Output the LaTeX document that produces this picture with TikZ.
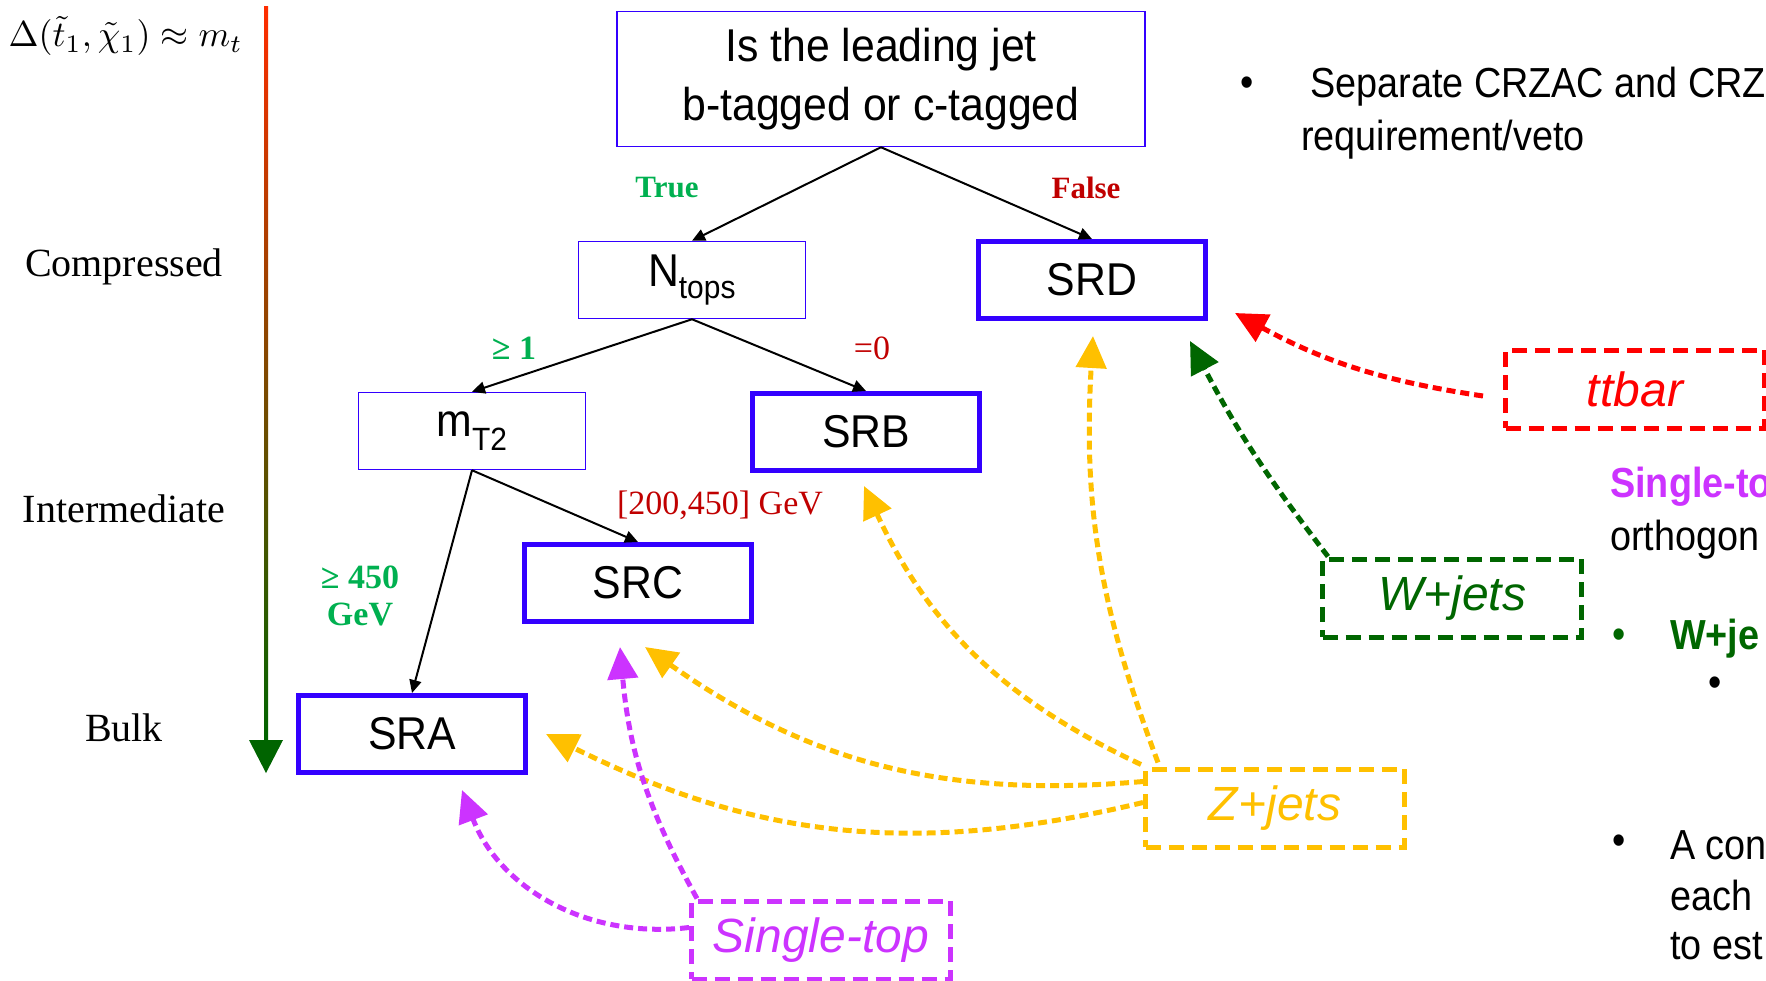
\documentclass[tikz,border=0pt]{standalone}
\usepackage{fontspec}
\setmainfont{Liberation Serif}
\newfontfamily\boxfont[FakeStretch=0.93]{Liberation Sans}
\newfontfamily\bkgfont{Liberation Sans}
\newfontfamily\sidefont[FakeStretch=0.9]{Liberation Sans}
\usepackage{tikz}
\usetikzlibrary{calc}
\usetikzlibrary{arrows.meta}
\definecolor{colbox}{RGB}{51,0,255}
\definecolor{colyes}{RGB}{0,176,80}
\definecolor{colno}{RGB}{192,0,0}
\definecolor{colzj}{RGB}{255,192,0}
\definecolor{colst}{RGB}{204,51,255}
\definecolor{colwj}{RGB}{0,102,0}
\definecolor{coltt}{RGB}{255,0,0}
\definecolor{coltop}{RGB}{255,45,0}
\definecolor{colbot}{RGB}{0,100,0}
\tikzstyle{cutbox}=[draw=colbox, line width=1.5pt, fill=white, minimum width=227pt, minimum height=77pt, font=\boxfont\fontsize{46}{59}\selectfont]
\tikzstyle{srbox}=[cutbox, line width=5pt]
\tikzstyle{bkgbox}=[line width=5pt, dash pattern=on 15pt off 8pt, minimum width=259pt, minimum height=78pt, font=\bkgfont\itshape\fontsize{48}{52}\selectfont]
\tikzstyle{cutedge}=[line width=2pt, -{Triangle[length=13pt,width=12pt]}]
\tikzstyle{bkgarrow}=[line width=5pt, dash pattern=on 9pt off 5pt, -{Triangle[length=32pt,width=30pt]}]
\tikzstyle{edgelabel}=[font=\bfseries\fontsize{31}{37}\selectfont]
\tikzstyle{cutlabel}=[font=\bfseries\fontsize{34}{37}\selectfont]
\tikzstyle{regime}=[font=\fontsize{40}{44}\selectfont]
\tikzstyle{sidetext}=[anchor=west, inner sep=0pt, font=\sidefont\fontsize{42}{50}\selectfont]

\begin{document}
\begin{tikzpicture}[x=1pt, y=-1pt]
      \useasboundingbox (0,0) rectangle (1766,980);

      % Mass splitting axis
      \node[anchor=west, inner sep=0pt, scale=3.6] (dm) at (8,36) {$\Delta(\tilde{t}_1,\tilde{\chi}_1)\approx m_t$};
      \shade[top color=coltop, bottom color=colbot] (264,6) rectangle (268,742);
      \fill[colbot] (249,740) -- (283,740) -- (266,773) -- cycle;
      \node[regime] (comp) at (124,267) {Compressed};
      \node[regime] (inter) at (124,509) {Intermediate};
      \node[regime] (bulk) at (124,728) {Bulk};

      % Decision tree
      \node[cutbox, minimum width=528pt, minimum height=135pt, align=center] (lead) at (881,79) {Is the leading jet\\b-tagged or c-tagged};
      \node[cutbox] (ntops) at (692,280) {N\textsubscript{tops}};
      \node[srbox] (srd) at (1092,280) {SRD};
      \node[cutbox] (mtt) at (472,431) {m\textsubscript{T2}};
      \node[srbox] (srb) at (866,432) {SRB};
      \node[srbox] (src) at (638,583) {SRC};
      \node[srbox] (sra) at (412,734) {SRA};

      \draw[cutedge] (lead.south) -- (ntops.north);
      \draw[cutedge] (lead.south) -- (srd.north);
      \draw[cutedge] (ntops.south) -- (mtt.north);
      \draw[cutedge] (ntops.south) -- (srb.north);
      \draw[cutedge] (mtt.south) -- (src.north);
      \draw[cutedge] (mtt.south) -- (sra.north);

      \node[edgelabel, text=colyes] (ltrue) at (667,188) {True};
      \node[edgelabel, text=colno] (lfalse) at (1086,188) {False};
      \node[cutlabel, text=colyes] (lone) at (514,348) {≥ 1};
      \node[cutlabel, font=\fontsize{34}{37}\selectfont, text=colno] (lzero) at (872,348) {=0};
      \node[cutlabel, font=\fontsize{34}{37}\selectfont, text=colno] (lmid) at (720,505) {[200,450] GeV};
      \node[cutlabel, text=colyes, align=center] (lhigh) at (360,596) {≥ 450\\GeV};

      % Backgrounds
      \node[bkgbox, draw=coltt, text=coltt] (ttbar) at (1635,389) {ttbar};
      \node[bkgbox, draw=colwj, text=colwj] (wjets) at (1452,598) {W+jets};
      \node[bkgbox, draw=colzj, text=colzj] (zjets) at (1275,808) {Z+jets};
      \node[bkgbox, draw=colst, text=colst] (stop) at (821,940) {Single-top};

      \draw[bkgarrow, coltt] ($(ttbar.west)+(-20,7)$) to[bend left=10] ($(srd.south east)+(27,-8)$);
      \draw[bkgarrow, colwj] ($(wjets.north west)+(8,0)$) to[bend left=5] ($(srd.south east)+(-18,20)$);
      \draw[bkgarrow, colzj] ($(zjets.north west)+(15,-4)$) to[bend left=12] ($(srd.south)+(1,15)$);
      \draw[bkgarrow, colzj] ($(zjets.north west)+(-2,-2)$) to[bend left=20] ($(srb.south)+(-2,13)$);
      \draw[bkgarrow, colzj] ($(zjets.north west)+(0,15)$) to[bend left=20] ($(src.south)+(7,23)$);
      \draw[bkgarrow, colzj] ($(zjets.north west)+(0,36)$) to[bend left=20] ($(sra.east)+(18,0)$);
      \draw[bkgarrow, colst] ($(stop.north west)+(8,0)$) to[bend left=12] ($(src.south)+(-18,23)$);
      \draw[bkgarrow, colst] ($(stop.north west)+(0,29)$) to[bend left=38] ($(sra.south)+(50,15)$);

      % Slide text on the right
      \node[sidetext] (b1) at (1240,87) {•};
      \node[sidetext] (t1) at (1310,87) {Separate CRZAC and CRZ};
      \node[sidetext] (t2) at (1301,140) {requirement/veto};
      \node[sidetext, text=colst, font=\sidefont\bfseries\fontsize{42}{50}\selectfont] (t3) at (1610,487) {Single-to};
      \node[sidetext] (t4) at (1610,540) {orthogon};
      \node[sidetext, text=colwj] (b2) at (1612,639) {•};
      \node[sidetext, text=colwj, font=\sidefont\bfseries\fontsize{42}{50}\selectfont] (t5) at (1670,639) {W+je};
      \node[sidetext] (b3) at (1708,687) {•};
      \node[sidetext] (b4) at (1612,845) {•};
      \node[sidetext] (t6) at (1670,845) {A con};
      \node[sidetext] (t7) at (1670,895) {each};
      \node[sidetext] (t8) at (1670,946) {to est};
    \end{tikzpicture}
\end{document}
